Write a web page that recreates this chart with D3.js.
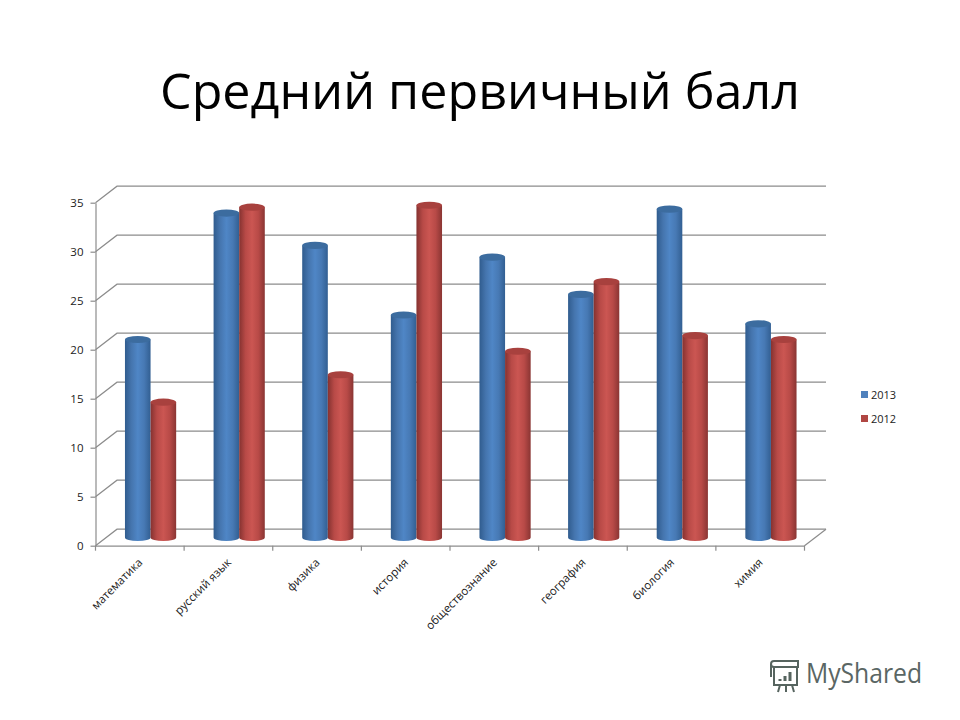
<!DOCTYPE html>
<html>
<head>
<meta charset="utf-8">
<script src="https://cdn.jsdelivr.net/npm/d3@7"></script>
<style>
  body { margin: 0; background: #fff; }
  text { font-family: "Open Sans", "Noto Sans", sans-serif; fill: #222; }
  .axis path.domain, .axis line { stroke: #8c8c8c; stroke-width: 1.2; }
  .grid { stroke: #8c8c8c; stroke-width: 1.2; fill: none; }
</style>
</head>
<body>
<div id="chart"></div>
<script>
var categories = ["математика", "русский язык", "физика", "история", "обществознание", "география", "биология", "химия"];
var values2013 = [20.2, 33.1, 29.8, 22.7, 28.6, 24.8, 33.5, 21.8];
var values2012 = [13.8, 33.7, 16.6, 33.9, 19, 26.1, 20.6, 20.2];
var seriesNames = ["2013", "2012"];
var yTicks = [0, 5, 10, 15, 20, 25, 30, 35];

var width = 960, height = 720;
var left = 95.5, right = 804.5, top0 = 202.7, bottom = 545.7;
// depth of the 3d box
var depthX = 21.5, depthY = -16.5;
var barW = 25.6, ry = 3.6;

var colors = {
  "2013": { id: "blueBar", swatch: "#4f81bd", top: "#3c6c9f", stops: ["#305c8e", "#4575ae", "#4f86c6", "#4779b4", "#325f92"] },
  "2012": { id: "redBar", swatch: "#b04643", top: "#a8413e", stops: ["#853230", "#b84a47", "#cb5652", "#b84a47", "#8a3533"] }
};

var x = d3.scaleBand().domain(categories).range([left, right]);
var y = d3.scaleLinear().domain([0, 35]).range([bottom, top0]);

var svg = d3.select("#chart").append("svg")
  .attr("width", width)
  .attr("height", height)
  .style("display", "block");

var defs = svg.append("defs");
seriesNames.forEach(function (s) {
  var g = defs.append("linearGradient").attr("id", colors[s].id);
  colors[s].stops.forEach(function (c, i) {
    g.append("stop").attr("offset", i * 25 + "%").attr("stop-color", c);
  });
});

svg.append("text")
  .text("Средний первичный балл")
  .attr("x", 480)
  .attr("y", 108.5)
  .attr("text-anchor", "middle")
  .style("font-size", "49px")
  .style("fill", "#000")
  .attr("textLength", 640)
  .attr("lengthAdjust", "spacingAndGlyphs");

// back wall lines and the diagonals to the front axis
svg.append("g").selectAll("path")
  .data(yTicks)
  .enter()
  .append("path")
  .attr("class", "grid")
  .attr("d", function (d) {
    return "M" + left + "," + y(d) +
      "L" + (left + depthX) + "," + (y(d) + depthY) +
      "H" + (right + depthX);
  });

// right edge of the floor
svg.append("line")
  .attr("class", "grid")
  .attr("x1", right)
  .attr("y1", y(0))
  .attr("x2", right + depthX)
  .attr("y2", y(0) + depthY);

var yAxis = d3.axisLeft(y).tickValues(yTicks).tickSize(5).tickSizeOuter(0).tickPadding(7);
var gy = svg.append("g")
  .attr("class", "axis")
  .attr("transform", "translate(" + left + ",0)")
  .call(yAxis);
gy.selectAll("text").style("font-size", "11.5px").style("fill", "#222");

var xAxis = d3.axisBottom(x).tickSize(0).tickPadding(0);
var gx = svg.append("g")
  .attr("class", "axis")
  .attr("transform", "translate(0," + bottom + ")")
  .call(xAxis);
gx.selectAll("text")
  .style("font-size", "11.5px")
  .style("fill", "#222")
  .attr("text-anchor", "end")
  .attr("dy", "0.3em")
  .attr("transform", "translate(1,15) rotate(-45)");

// tick marks sit between the categories
gx.selectAll("line.sep")
  .data(d3.range(categories.length + 1))
  .enter()
  .append("line")
  .attr("class", "sep")
  .attr("x1", function (i) { return left + i * x.step(); })
  .attr("x2", function (i) { return left + i * x.step(); })
  .attr("y1", 0)
  .attr("y2", 5);

// cylinders
function cylinder(d) {
  var x0 = d.cx - barW / 2, x1 = d.cx + barW / 2;
  var base = y(0) + depthY / 2, head = y(d.value) + depthY / 2;
  return "M" + x0 + "," + head +
    "V" + base +
    "A" + barW / 2 + "," + ry + " 0 0 0 " + x1 + "," + base +
    "V" + head + "Z";
}

var bars = [];
categories.forEach(function (c, i) {
  var mid = x(c) + x.bandwidth() / 2 + depthX / 2;
  bars.push({ series: "2013", value: values2013[i], cx: mid - barW / 2 });
  bars.push({ series: "2012", value: values2012[i], cx: mid + barW / 2 });
});

var bar = svg.append("g").selectAll("g")
  .data(bars)
  .enter()
  .append("g");

bar.append("path")
  .attr("d", cylinder)
  .attr("fill", function (d) { return "url(#" + colors[d.series].id + ")"; });

bar.append("ellipse")
  .attr("cx", function (d) { return d.cx; })
  .attr("cy", function (d) { return y(d.value) + depthY / 2; })
  .attr("rx", barW / 2)
  .attr("ry", ry)
  .attr("fill", function (d) { return colors[d.series].top; });

// legend
var legend = svg.append("g").selectAll("g")
  .data(seriesNames)
  .enter()
  .append("g")
  .attr("transform", function (d, i) { return "translate(861," + (391 + i * 24) + ")"; });

legend.append("rect")
  .attr("width", 7)
  .attr("height", 7)
  .attr("fill", function (d) { return colors[d].swatch; });

legend.append("text")
  .text(function (d) { return d; })
  .attr("x", 10)
  .attr("y", 7.5)
  .style("font-size", "11px");

// watermark
var mark = svg.append("g").attr("transform", "translate(768,659)")
  .attr("fill", "none")
  .attr("stroke", "#56645f")
  .attr("stroke-width", 2);
mark.append("path").attr("d", "M6,2H30V8H6C2,8 2,2 6,2M3,5V18");
mark.append("rect").attr("x", 6).attr("y", 8).attr("width", 23).attr("height", 18);
mark.append("path").attr("d", "M12,26L10,33M18,26V33M24,26L26,33");
mark.append("path").attr("d", "M12,22V20M17,22V17M22,22V13").attr("stroke-width", 3);

svg.append("text")
  .text("MyShared")
  .attr("x", 806)
  .attr("y", 683)
  .style("font-size", "28px")
  .style("fill", "#5a6664")
  .attr("textLength", 116)
  .attr("lengthAdjust", "spacingAndGlyphs");
</script>
</body>
</html>
